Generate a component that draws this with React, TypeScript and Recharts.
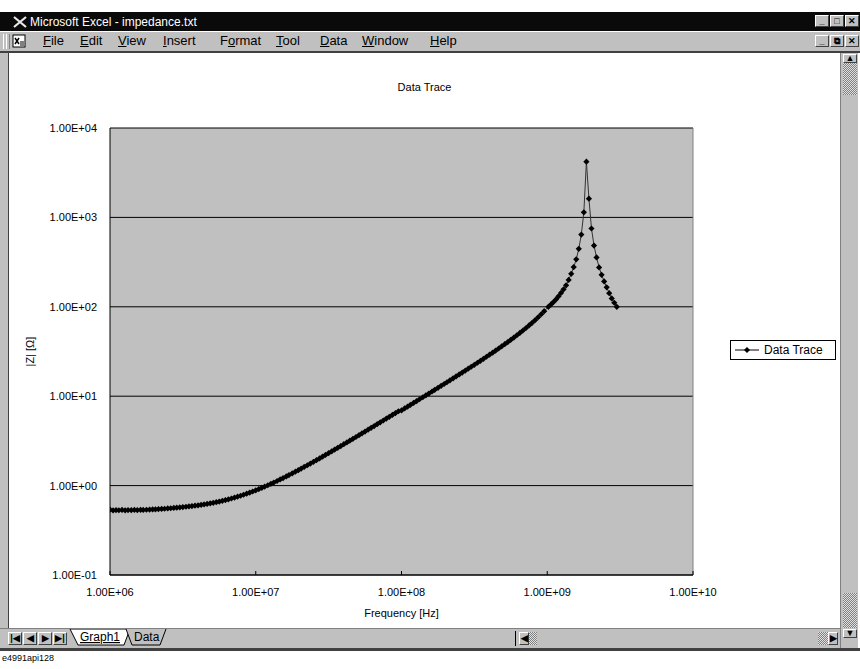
import { LineChart, Line, XAxis, YAxis, CartesianGrid, Legend, ReferenceLine } from "recharts";

// sweep frequencies (Hz)
const freqHz = [
  1.00e6, 1.05e6, 1.10e6, 1.15e6, 1.21e6, 1.27e6, 1.33e6, 1.40e6, 1.47e6, 1.54e6, 1.62e6, 1.69e6,
  1.78e6, 1.87e6, 1.96e6, 2.05e6, 2.15e6, 2.26e6, 2.37e6, 2.49e6, 2.61e6, 2.74e6, 2.87e6, 3.01e6,
  3.16e6, 3.32e6, 3.48e6, 3.65e6, 3.83e6, 4.02e6, 4.22e6, 4.42e6, 4.64e6, 4.87e6, 5.11e6, 5.36e6,
  5.62e6, 5.90e6, 6.19e6, 6.49e6, 6.81e6, 7.15e6, 7.50e6, 7.87e6, 8.25e6, 8.66e6, 9.09e6, 9.53e6,
  1.00e7, 1.05e7, 1.10e7, 1.15e7, 1.21e7, 1.27e7, 1.33e7, 1.40e7, 1.47e7, 1.54e7, 1.62e7, 1.69e7,
  1.78e7, 1.87e7, 1.96e7, 2.05e7, 2.15e7, 2.26e7, 2.37e7, 2.49e7, 2.61e7, 2.74e7, 2.87e7, 3.01e7,
  3.16e7, 3.32e7, 3.48e7, 3.65e7, 3.83e7, 4.02e7, 4.22e7, 4.42e7, 4.64e7, 4.87e7, 5.11e7, 5.36e7,
  5.62e7, 5.90e7, 6.19e7, 6.49e7, 6.81e7, 7.15e7, 7.50e7, 7.87e7, 8.25e7, 8.66e7, 9.09e7, 9.53e7,
  1.00e8, 1.05e8, 1.10e8, 1.15e8, 1.21e8, 1.27e8, 1.33e8, 1.40e8, 1.47e8, 1.54e8, 1.62e8, 1.69e8,
  1.78e8, 1.87e8, 1.96e8, 2.05e8, 2.15e8, 2.26e8, 2.37e8, 2.49e8, 2.61e8, 2.74e8, 2.87e8, 3.01e8,
  3.16e8, 3.32e8, 3.48e8, 3.65e8, 3.83e8, 4.02e8, 4.22e8, 4.42e8, 4.64e8, 4.87e8, 5.11e8, 5.36e8,
  5.62e8, 5.90e8, 6.19e8, 6.49e8, 6.81e8, 7.15e8, 7.50e8, 7.87e8, 8.25e8, 8.66e8, 9.09e8, 9.53e8,
  1.018e9, 1.059e9, 1.103e9, 1.148e9, 1.195e9, 1.243e9, 1.294e9, 1.347e9, 1.402e9, 1.460e9,
  1.519e9, 1.581e9, 1.646e9, 1.713e9, 1.783e9, 1.856e9, 1.932e9, 2.011e9, 2.093e9, 2.179e9,
  2.268e9, 2.360e9, 2.457e9, 2.557e9, 2.661e9, 2.770e9, 2.884e9, 3.000e9,
];

// |Z| in ohms, one per frequency
const impedanceOhm = [
  0.538, 0.527, 0.532, 0.530, 0.534, 0.529, 0.533, 0.531, 0.535, 0.532, 0.536, 0.534,
  0.537, 0.539, 0.541, 0.543, 0.546, 0.548, 0.551, 0.555, 0.558, 0.562, 0.566, 0.570,
  0.575, 0.580, 0.585, 0.590, 0.596, 0.602, 0.609, 0.616, 0.624, 0.633, 0.642, 0.653,
  0.663, 0.676, 0.689, 0.702, 0.717, 0.734, 0.751, 0.770, 0.790, 0.812, 0.835, 0.859,
  0.886, 0.915, 0.944, 0.973, 1.009, 1.046, 1.083, 1.126, 1.171, 1.215, 1.266, 1.312,
  1.370, 1.430, 1.489, 1.549, 1.616, 1.690, 1.764, 1.846, 1.927, 2.016, 2.105, 2.202,
  2.305, 2.416, 2.527, 2.645, 2.770, 2.903, 3.043, 3.183, 3.337, 3.498, 3.667, 3.842,
  4.025, 4.222, 4.427, 4.638, 4.864, 5.104, 5.351, 5.613, 5.881, 6.171, 6.476, 6.787,
  6.94, 7.29, 7.63, 7.98, 8.40, 8.82, 9.24, 9.73, 10.22, 10.71, 11.28, 11.77,
  12.41, 13.05, 13.69, 14.33, 15.05, 15.84, 16.63, 17.50, 18.38, 19.33, 20.30, 21.34,
  22.46, 23.67, 24.89, 26.20, 27.61, 29.11, 30.71, 32.34, 34.15, 36.09, 38.15, 40.35,
  42.70, 45.29, 48.06, 51.02, 54.30, 57.93, 61.85, 66.21, 70.94, 76.38, 82.51, 89.30,
  100, 106, 113, 121, 131, 143, 157, 174, 200, 234,
  278, 340, 445, 643, 1140, 4200, 1620, 751, 484, 357,
  276, 228, 192, 165, 142, 124, 111, 100,
];

const freqTicks = [1e6, 1e7, 1e8, 1e9, 1e10];
const impedanceTicks = [1e-1, 1e0, 1e1, 1e2, 1e3, 1e4];

const seriesName = "Data Trace";
const menuLabels = ["File", "Edit", "View", "Insert", "Format", "Tool", "Data", "Window", "Help"];
const menuUnderline = [0, 0, 0, 0, 1, 0, 0, 0, 0];
const menuLeft = [43, 80, 118, 163, 220, 276, 320, 362, 430];

const data = freqHz.map((f, i) => ({ f, z: impedanceOhm[i] }));

const FONT = '"Liberation Sans", Arial, sans-serif';
const GRAY = "#c0c0c0";

const sciLabel = (v: number) => {
  const exp = Math.floor(Math.log10(v) + 1e-9);
  const mant = (v / Math.pow(10, exp)).toFixed(2);
  return `${mant}E${exp < 0 ? "-" : "+"}${String(Math.abs(exp)).padStart(2, "0")}`;
};

const renderDiamond = (props: any) => {
  const { cx, cy, index } = props;
  const r = 3.1;
  if (cx == null || cy == null) return <g key={`d-${index}`} />;
  return (
    <path
      key={`d-${index}`}
      d={`M${cx} ${cy - r}L${cx + r} ${cy}L${cx} ${cy + r}L${cx - r} ${cy}Z`}
      fill="#000"
    />
  );
};

const YTitle = (props: any) => {
  const { viewBox } = props;
  const x = viewBox.x + 10;
  const y = viewBox.y + viewBox.height / 2;
  return (
    <text x={x} y={y} transform={`rotate(-90 ${x} ${y})`} textAnchor="middle" dominantBaseline="central" fontSize={11} fill="#000">
      |Z| [Ω]
    </text>
  );
};

const XTitle = (props: any) => {
  const { viewBox } = props;
  return (
    <text x={viewBox.x + viewBox.width / 2} y={viewBox.y + 38} textAnchor="middle" dominantBaseline="central" fontSize={11} fill="#000">
      Frequency [Hz]
    </text>
  );
};

const LegendBox = () => (
  <div
    style={{
      border: "1px solid #000",
      background: "#fff",
      height: 20,
      display: "flex",
      alignItems: "center",
      fontSize: 12,
      fontFamily: FONT,
      color: "#000",
      boxSizing: "border-box",
    }}
  >
    <svg width={26} height={10} style={{ marginLeft: 3, marginRight: 4 }}>
      <line x1={1} y1={5} x2={25} y2={5} stroke="#000" />
      <path d="M13 2L16 5L13 8L10 5Z" fill="#000" />
    </svg>
    <span>{seriesName}</span>
  </div>
);

const Bevel = ({ children, w = 14, h = 12 }: any) => (
  <div
    style={{
      width: w,
      height: h,
      background: GRAY,
      borderTop: "1px solid #fff",
      borderLeft: "1px solid #fff",
      borderRight: "1px solid #404040",
      borderBottom: "1px solid #404040",
      boxSizing: "border-box",
      display: "flex",
      alignItems: "center",
      justifyContent: "center",
      fontSize: 9,
      fontWeight: 700,
      lineHeight: 1,
      color: "#000",
    }}
  >
    {children}
  </div>
);

const dither = {
  background: "repeating-conic-gradient(#808080 0% 25%, #e0e0e0 0% 50%) 0 0 / 2px 2px",
};

const WindowChrome = () => (
  <>
    {/* title bar */}
    <div style={{ position: "absolute", left: 0, top: 12, width: 860, height: 19, background: "#0a0a0a" }}>
      <svg width={14} height={12} style={{ position: "absolute", left: 13, top: 4 }}>
        <path d="M1 1L13 11M13 1L1 11" stroke="#e8e8e8" strokeWidth={2.2} />
      </svg>
      <div style={{ position: "absolute", left: 30, top: 3, color: "#fff", fontSize: 12, fontFamily: FONT }}>
        Microsoft Excel - impedance.txt
      </div>
      <div style={{ position: "absolute", left: 815, top: 3, display: "flex", gap: 1 }}>
        <Bevel>_</Bevel>
        <Bevel>□</Bevel>
        <Bevel>✕</Bevel>
      </div>
    </div>
    {/* menu bar */}
    <div style={{ position: "absolute", left: 0, top: 31, width: 860, height: 20, background: GRAY, borderTop: "1px solid #fff", boxSizing: "border-box" }}>
      <div style={{ position: "absolute", left: 3, top: 2, width: 2, height: 15, borderLeft: "1px solid #fff", borderRight: "1px solid #808080" }} />
      <div style={{ position: "absolute", left: 6, top: 2, width: 2, height: 15, borderLeft: "1px solid #fff", borderRight: "1px solid #808080" }} />
      <svg width={14} height={14} style={{ position: "absolute", left: 12, top: 2 }}>
        <rect x={1} y={1} width={12} height={12} fill="#fff" stroke="#000" />
        <path d="M3 4L7 10M7 4L3 10" stroke="#000" strokeWidth={1.5} />
        <rect x={8} y={7} width={4} height={5} fill="#808080" />
      </svg>
      {menuLabels.map((label, i) => {
        const u = menuUnderline[i];
        return (
          <div key={label} style={{ position: "absolute", left: menuLeft[i], top: 1, fontSize: 13, fontFamily: FONT, color: "#000" }}>
            {label.slice(0, u)}
            <span style={{ textDecoration: "underline" }}>{label[u]}</span>
            {label.slice(u + 1)}
          </div>
        );
      })}
      <div style={{ position: "absolute", left: 815, top: 3, display: "flex", gap: 1 }}>
        <Bevel>_</Bevel>
        <Bevel>⧉</Bevel>
        <Bevel>✕</Bevel>
      </div>
    </div>
    {/* workbook frame */}
    <div style={{ position: "absolute", left: 0, top: 51, width: 860, height: 2, background: "#404040" }} />
    <div style={{ position: "absolute", left: 0, top: 53, width: 8, height: 575, background: GRAY }} />
    <div style={{ position: "absolute", left: 8, top: 53, width: 1, height: 575, background: "#404040" }} />
    {/* vertical scrollbar */}
    <div style={{ position: "absolute", left: 840, top: 53, width: 18, height: 595, background: GRAY, borderLeft: "1px solid #808080", boxSizing: "border-box" }}>
      <div style={{ position: "absolute", left: 2, top: 1 }}>
        <Bevel w={14} h={9}>▲</Bevel>
      </div>
      <div style={{ position: "absolute", left: 2, top: 10, width: 14, height: 32, ...dither }} />
      <div style={{ position: "absolute", left: 2, top: 540, width: 14, height: 35, ...dither }} />
      <div style={{ position: "absolute", left: 2, top: 576 }}>
        <Bevel w={14} h={9}>▼</Bevel>
      </div>
    </div>
    {/* sheet tabs + horizontal scrollbar */}
    <div style={{ position: "absolute", left: 0, top: 628, width: 840, height: 20, background: GRAY, borderTop: "1px solid #808080", boxSizing: "border-box" }}>
      <div style={{ position: "absolute", left: 8, top: 3, display: "flex", gap: 1 }}>
        <Bevel w={14} h={13}>|◀</Bevel>
        <Bevel w={14} h={13}>◀</Bevel>
        <Bevel w={14} h={13}>▶</Bevel>
        <Bevel w={14} h={13}>▶|</Bevel>
      </div>
      <svg width={110} height={19} style={{ position: "absolute", left: 68, top: 0 }}>
        <path d="M2 0L10 16H56L62 0Z" fill="#fff" stroke="#000" />
        <path d="M58 0L64 16H92L98 0" fill={GRAY} stroke="#000" />
        <text x={12} y={12} fontSize={12} fontFamily={FONT} textDecoration="underline">Graph1</text>
        <text x={66} y={12} fontSize={12} fontFamily={FONT}>Data</text>
      </svg>
      <div style={{ position: "absolute", left: 515, top: 2, width: 325, height: 15, borderLeft: "1px solid #000" }}>
        <div style={{ position: "absolute", left: 3, top: 1 }}>
          <Bevel w={10} h={13}>◀</Bevel>
        </div>
        <div style={{ position: "absolute", left: 13, top: 1, width: 8, height: 13, ...dither }} />
        <div style={{ position: "absolute", left: 302, top: 1, width: 10, height: 13, ...dither }} />
        <div style={{ position: "absolute", left: 312, top: 1 }}>
          <Bevel w={10} h={13}>▶</Bevel>
        </div>
      </div>
    </div>
    <div style={{ position: "absolute", left: 0, top: 648, width: 860, height: 3, background: "#404040" }} />
    <div style={{ position: "absolute", left: 2, top: 653, fontSize: 9, fontFamily: FONT, color: "#000" }}>e4991api128</div>
  </>
);

export default function App() {
  return (
    <div style={{ position: "absolute", left: 0, top: 0, width: 860, height: 669, background: "#fff", overflow: "hidden", fontFamily: FONT }}>
      <WindowChrome />
      <div style={{ position: "absolute", left: 9, top: 81, width: 831, textAlign: "center", fontSize: 11, color: "#000" }}>
        {seriesName}
      </div>
      <div style={{ position: "absolute", left: 10, top: 53 }}>
        <LineChart width={828} height={575} data={data} margin={{ top: 75, right: 145, bottom: 7, left: 10 }}>
          <CartesianGrid horizontal vertical={false} stroke="#000" fill={GRAY} />
          <ReferenceLine x={1e10} stroke="#808080" />
          <XAxis
            dataKey="f"
            type="number"
            scale="log"
            domain={[1e6, 1e10]}
            ticks={freqTicks}
            interval={0}
            allowDataOverflow
            tickFormatter={sciLabel}
            height={46}
            tickSize={-4}
            tickMargin={17}
            axisLine={{ stroke: "#000" }}
            tickLine={{ stroke: "#000" }}
            tick={{ fontSize: 11, fill: "#000" }}
            label={<XTitle />}
          />
          <YAxis
            dataKey="z"
            type="number"
            scale="log"
            domain={[1e-1, 1e4]}
            ticks={impedanceTicks}
            interval={0}
            allowDataOverflow
            tickFormatter={sciLabel}
            width={90}
            tickSize={4}
            tickMargin={9}
            axisLine={{ stroke: "#000" }}
            tickLine={false}
            tick={{ fontSize: 11, fill: "#000" }}
            label={<YTitle />}
          />
          <Legend
            layout="horizontal"
            align="center"
            verticalAlign="middle"
            content={<LegendBox />}
            wrapperStyle={{ left: 720, top: 287, width: 106, height: 20 }}
          />
          <Line
            type="linear"
            dataKey="z"
            name={seriesName}
            stroke="#333"
            strokeWidth={1}
            dot={renderDiamond}
            activeDot={false}
            isAnimationActive={false}
          />
        </LineChart>
      </div>
    </div>
  );
}
